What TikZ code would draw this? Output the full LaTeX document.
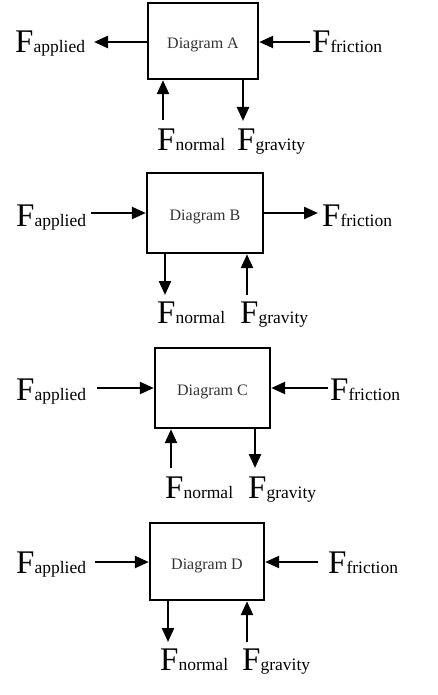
\documentclass[tikz,border=0pt]{standalone}
\usepackage{fontspec}
\setmainfont{Liberation Serif}
\usetikzlibrary{arrows.meta}
\newcommand\Flab[1]{{\fontsize{33}{33}\selectfont F}{\fontsize{17.5}{17.5}\selectfont #1}}
\tikzset{
  x=1pt, y=-1pt,
  box/.style={draw, line width=2.4pt, rectangle, inner sep=0pt, text=black!80,
    font=\fontsize{16}{16}\selectfont, text height=19pt, text depth=3.5pt},
  force/.style={line width=2.4pt, -{Triangle[length=14pt,width=12pt]}},
  flab/.style={anchor=base west, inner sep=0pt}
}
\begin{document}
\begin{tikzpicture}
\useasboundingbox (0,0) rectangle (437,695);
% ---- Diagram A
\node[box, minimum width=110pt, minimum height=76pt] (boxA) at (203,41) {Diagram A};
\coordinate (Aap) at (94,42);
\coordinate (Afr) at (310,42);
\coordinate (Ano) at (163,120);
\coordinate (Agr) at (243,121);
\draw[force] (Aap -| boxA.west) -- (Aap);
\draw[force] (Afr) -- (Afr -| boxA.east);
\draw[force] (Ano) -- (Ano |- boxA.south);
\draw[force] (Agr |- boxA.south) -- (Agr);
\node[flab] (lAap) at (15,53) {\Flab{applied}};
\node[flab] (lAfr) at (312,53) {\Flab{friction}};
\node[flab] (lAno) at (157,150) {\Flab{normal}};
\node[flab] (lAgr) at (237,150) {\Flab{gravity}};
% ---- Diagram B
\node[box, minimum width=116pt, minimum height=80pt] (boxB) at (205,213) {Diagram B};
\coordinate (Bap) at (91,213);
\coordinate (Bfr) at (318,213);
\coordinate (Bno) at (165,295);
\coordinate (Bgr) at (247,295);
\draw[force] (Bap) -- (Bap -| boxB.west);
\draw[force] (Bfr -| boxB.east) -- (Bfr);
\draw[force] (Bno |- boxB.south) -- (Bno);
\draw[force] (Bgr) -- (Bgr |- boxB.south);
\node[flab] (lBap) at (16,226) {\Flab{applied}};
\node[flab] (lBfr) at (322,226) {\Flab{friction}};
\node[flab] (lBno) at (157,323) {\Flab{normal}};
\node[flab] (lBgr) at (240,323) {\Flab{gravity}};
% ---- Diagram C
\node[box, minimum width=115pt, minimum height=80pt] (boxC) at (212.5,388) {Diagram C};
\coordinate (Cap) at (97,388);
\coordinate (Cfr) at (328,388);
\coordinate (Cno) at (171,468);
\coordinate (Cgr) at (255,468);
\draw[force] (Cap) -- (Cap -| boxC.west);
\draw[force] (Cfr) -- (Cfr -| boxC.east);
\draw[force] (Cno) -- (Cno |- boxC.south);
\draw[force] (Cgr |- boxC.south) -- (Cgr);
\node[flab] (lCap) at (16,400) {\Flab{applied}};
\node[flab] (lCfr) at (330,400) {\Flab{friction}};
\node[flab] (lCno) at (165,498) {\Flab{normal}};
\node[flab] (lCgr) at (248,498) {\Flab{gravity}};
% ---- Diagram D
\node[box, minimum width=114pt, minimum height=77pt] (boxD) at (207,561.5) {Diagram D};
\coordinate (Dap) at (95,562);
\coordinate (Dfr) at (318,562);
\coordinate (Dno) at (168,642);
\coordinate (Dgr) at (247,642);
\draw[force] (Dap) -- (Dap -| boxD.west);
\draw[force] (Dfr) -- (Dfr -| boxD.east);
\draw[force] (Dno |- boxD.south) -- (Dno);
\draw[force] (Dgr) -- (Dgr |- boxD.south);
\node[flab] (lDap) at (16,573) {\Flab{applied}};
\node[flab] (lDfr) at (328,573) {\Flab{friction}};
\node[flab] (lDno) at (160,670) {\Flab{normal}};
\node[flab] (lDgr) at (242,670) {\Flab{gravity}};
\end{tikzpicture}
\end{document}
